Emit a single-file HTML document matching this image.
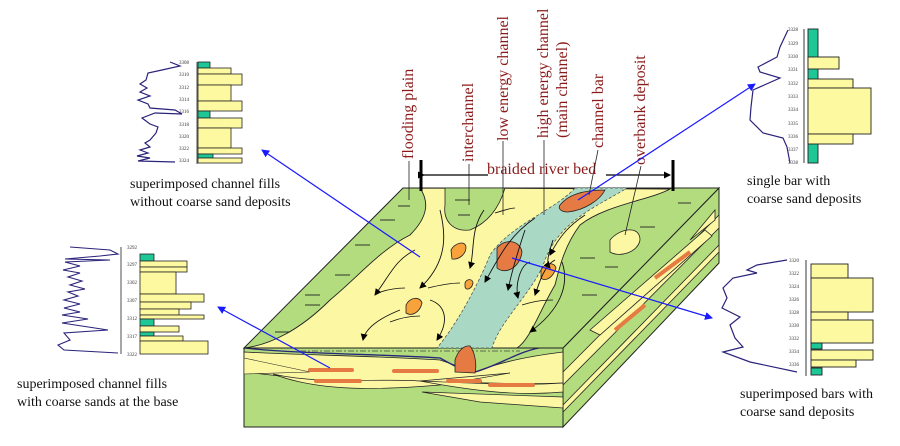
<!DOCTYPE html>
<html><head><meta charset="utf-8"><style>
html,body{margin:0;padding:0;background:#fff;}
svg{display:block;}
text{font-family:"Liberation Serif",serif;}
.lbl{fill:#8b1a1a;font-size:16px;}
.cap{fill:#111;font-size:14px;}
.num{font-family:"Liberation Sans",sans-serif;font-size:5px;fill:#333;}
</style></head><body>
<svg width="900" height="446" viewBox="0 0 900 446" xmlns="http://www.w3.org/2000/svg">
<defs>
<marker id="ab" markerWidth="8" markerHeight="8" refX="7" refY="4" orient="auto" markerUnits="userSpaceOnUse"><path d="M0,0 L8,4 L0,8 z" fill="#1a1aff"/></marker>
<marker id="ak" markerWidth="7" markerHeight="7" refX="6" refY="3.5" orient="auto" markerUnits="userSpaceOnUse"><path d="M0,0 L7,3.5 L0,7 z" fill="#000"/></marker>
</defs>

<polygon points="563,348 719,188 719,263 563,427" fill="#b3dc7e" stroke="#222" stroke-width="1"/>
<path d="M563,372 L719,215 L719,228 L563,385 Z" fill="#fcf7a3" stroke="#222" stroke-width="0.8"/>
<path d="M563,405 L719,245 L719,252 L563,412 Z" fill="#fcf7a3" stroke="#222" stroke-width="0.8"/>
<path d="M590,330 L705,230 L712,236 L600,335 Z" fill="#fcf7a3" stroke="#222" stroke-width="0.8"/>
<path d="M655,278 L690,252" stroke="#e57a42" stroke-width="4"/>
<path d="M615,330 L645,305" stroke="#e57a42" stroke-width="4"/>
<path d="M690,240 L715,210 L715,220 Z" fill="#fcf7a3" stroke="#222" stroke-width="0.8"/>

<rect x="244" y="348" width="319" height="79" fill="#b3dc7e" stroke="#222" stroke-width="1"/>
<path d="M244,352 C300,355 380,356 440,360 L475,372 C500,362 530,356 563,352 L563,383 C520,385 470,382 420,381 C380,386 330,384 280,376 L244,372 Z" fill="#fcf7a3" stroke="#222" stroke-width="0.8"/>
<path d="M244,358 L310,372 L244,374 Z" fill="#fcf7a3" stroke="#222" stroke-width="0.6"/>
<path d="M273,374 C320,385 380,378 420,381 L510,373 L440,385 C380,390 320,392 273,374 Z" fill="#fcf7a3" stroke="#222" stroke-width="0.7"/>
<path d="M420,381 C470,383 520,386 563,383 L563,392 C520,396 480,392 420,381 Z" fill="#fcf7a3" stroke="#222" stroke-width="0.7"/>
<path d="M422,392 L563,397 L563,408 L480,402 Z" fill="#fcf7a3" stroke="#222" stroke-width="0.7"/>
<g stroke="#e57a42" stroke-width="4" stroke-linecap="round">
<line x1="310" y1="370" x2="352" y2="370"/><line x1="394" y1="371" x2="437" y2="371"/>
<line x1="316" y1="381" x2="360" y2="381"/><line x1="448" y1="381" x2="480" y2="381"/>
<line x1="490" y1="385" x2="533" y2="385"/>
</g>
<path d="M244,348 C300,354 380,354 440,358 C465,372 470,373 475,372 C500,365 520,350 545,347" fill="none" stroke="#2a237a" stroke-width="1.3"/>
<line x1="300" y1="351" x2="520" y2="351" stroke="#444" stroke-width="0.8" stroke-dasharray="6,2,2,2"/>

<polygon points="403,188 719,188 563,348 244,348" fill="#b3dc7e" stroke="#222" stroke-width="1"/>
<path d="M420,188 C428,200 430,215 410,235 C380,250 360,275 330,300 C300,330 270,345 244,348 L517,348 C530,340 540,310 555,285 C560,265 565,245 580,225 C605,205 650,200 670,189 Z" fill="#fcf7a3" stroke="#222" stroke-width="0.9"/>
<path d="M445,188 L505,188 C500,205 490,222 470,230 C452,232 443,220 445,205 Z" fill="#b3dc7e" stroke="#222" stroke-width="0.8"/>
<path d="M610,240 C620,228 640,225 640,240 C638,252 620,258 610,252 Z" fill="#fcf7a3" stroke="#222" stroke-width="0.8"/>
<path d="M575,188 L627,188 C600,205 560,220 545,260 C535,290 500,320 492,348 L437,348 C460,320 480,280 490,255 C510,225 555,210 575,188 Z" fill="#a9d9c4" stroke="#444" stroke-width="0.7" stroke-dasharray="3,2"/>
<g fill="#e57a42" stroke="#222" stroke-width="0.8">
<path d="M560,205 C570,192 590,190 605,190 C600,200 585,210 568,212 C560,212 558,208 560,205 Z"/>
<path d="M497,248 C505,238 520,240 522,252 C520,268 505,275 497,268 Z"/>
<path d="M455,360 C458,350 465,345 470,346 C475,352 477,365 475,373 L455,372 Z"/>
</g>
<g fill="#f7a23a" stroke="#222" stroke-width="0.8">
<path d="M451,250 C455,243 465,240 466,247 C466,255 458,260 452,259 Z"/>
<path d="M465,283 C467,278 473,279 473,283 C472,289 466,291 465,287 Z"/>
<path d="M406,305 C410,297 420,296 422,303 C420,312 412,317 406,313 Z"/>
<path d="M541,270 C545,262 555,262 556,268 C553,278 545,282 541,278 Z"/>
</g>
<g fill="none" stroke="#111" stroke-width="0.9" marker-end="url(#ak)">
<path d="M415,250 C395,260 390,275 375,295"/>
<path d="M440,210 C445,230 450,260 420,288"/>
<path d="M400,310 C375,320 365,330 363,340"/>
<path d="M430,300 C445,305 450,320 437,340"/>
<path d="M484,210 C470,230 475,250 470,268"/>
<path d="M535,218 C510,235 500,255 485,282"/>
<path d="M525,230 C520,245 512,270 508,290"/>
<path d="M530,262 C520,265 515,285 518,298"/>
<path d="M553,240 C550,250 545,262 550,268"/>
<path d="M555,260 C545,265 540,280 535,295"/>
<path d="M585,215 C570,225 560,235 550,255"/>
<path d="M562,262 C570,285 560,310 530,332"/>
</g>
<g fill="none" stroke="#111" stroke-width="0.8">
<path d="M375,294 C385,290 395,288 405,288"/><path d="M390,322 C400,318 410,316 420,316"/>
<path d="M428,288 C440,285 450,283 460,283"/><path d="M522,305 C532,302 540,300 553,300"/>
<path d="M495,213 C505,210 510,208 515,208"/>
</g>
<g stroke="#222" stroke-width="0.9">
<line x1="398" y1="206" x2="410" y2="206"/><line x1="380" y1="220" x2="395" y2="220"/>
<line x1="355" y1="245" x2="370" y2="245"/><line x1="335" y1="275" x2="350" y2="275"/>
<line x1="305" y1="295" x2="320" y2="295"/><line x1="305" y1="305" x2="320" y2="305"/>
<line x1="275" y1="332" x2="290" y2="332"/><line x1="455" y1="200" x2="470" y2="200"/>
<line x1="458" y1="215" x2="470" y2="215"/><line x1="678" y1="203" x2="691" y2="203"/>
<line x1="640" y1="227" x2="655" y2="227"/><line x1="580" y1="258" x2="595" y2="258"/>
<line x1="605" y1="267" x2="618" y2="267"/><line x1="582" y1="295" x2="597" y2="295"/>
</g>

<g stroke="#000">
<line x1="421" y1="160" x2="421" y2="191" stroke-width="3"/>
<line x1="673" y1="160" x2="673" y2="191" stroke-width="3"/>
<line x1="424" y1="175" x2="488" y2="175" stroke-width="1.3" marker-start="url(#ak)"/>
<line x1="606" y1="175" x2="670" y2="175" stroke-width="1.3" marker-end="url(#ak)"/>
</g>
<text x="487" y="174" class="lbl">braided river bed</text>

<g stroke="#222" stroke-width="0.8">
<line x1="409" y1="161" x2="409" y2="200"/>
<line x1="469" y1="164" x2="469" y2="205"/>
<line x1="503" y1="141" x2="503" y2="215"/>
<line x1="544" y1="140" x2="544" y2="215"/>
<line x1="598" y1="150" x2="589" y2="195"/>
<line x1="641" y1="166" x2="625" y2="235"/>
</g>
<text transform="translate(413,159) rotate(-90)" class="lbl">flooding plain</text>
<text transform="translate(473,162) rotate(-90)" class="lbl">interchannel</text>
<text transform="translate(508,141) rotate(-90)" class="lbl">low energy channel</text>
<text transform="translate(548,138) rotate(-90)" class="lbl">high energy channel</text>
<text transform="translate(567,138) rotate(-90)" class="lbl">(main channel)</text>
<text transform="translate(603,148) rotate(-90)" class="lbl">channel bar</text>
<text transform="translate(645,165) rotate(-90)" class="lbl">overbank deposit</text>

<g stroke="#1a1aff" stroke-width="1.2" fill="none" marker-end="url(#ab)">
<line x1="420" y1="257" x2="262" y2="150"/>
<line x1="330" y1="368" x2="218" y2="307"/>
<line x1="578" y1="200" x2="755" y2="84"/>
<line x1="512" y1="258" x2="712" y2="318"/>
</g>

<g stroke="#222" stroke-width="0.8">
<line x1="197" y1="62" x2="197" y2="164"/>
<rect x="198" y="62" width="12" height="6" fill="#1dc796"/>
<rect x="198" y="68" width="33" height="6" fill="#fdf9a0"/>
<rect x="198" y="74" width="44" height="11" fill="#fdf9a0"/>
<rect x="198" y="85" width="33" height="16" fill="#fdf9a0"/>
<rect x="198" y="101" width="44" height="10" fill="#fdf9a0"/>
<rect x="198" y="111" width="12" height="7" fill="#1dc796"/>
<rect x="198" y="118" width="44" height="10" fill="#fdf9a0"/>
<rect x="198" y="128" width="33" height="20" fill="#fdf9a0"/>
<rect x="198" y="148" width="44" height="6" fill="#fdf9a0"/>
<rect x="198" y="154" width="15" height="4" fill="#1dc796"/>
<rect x="198" y="158" width="44" height="5" fill="#fdf9a0"/>
</g>
<g class="num" text-anchor="middle">
<text x="184" y="64">3308</text><text x="184" y="76">3310</text><text x="184" y="89">3312</text><text x="184" y="101">3314</text><text x="184" y="113">3316</text><text x="184" y="126">3318</text><text x="184" y="138">3320</text><text x="184" y="150">3322</text><text x="184" y="162">3324</text>
</g>
<polyline fill="none" stroke="#2a237a" stroke-width="1.2" points="170,62 180,66 162,70 148,73 146,80 140,84 147,88 140,92 150,96 138,100 148,104 150,108 175,110 182,114 155,113 142,118 150,124 158,127 156,133 150,140 145,143 150,147 140,150 148,153 137,156 150,158 138,161 175,162"/>

<g stroke="#222" stroke-width="0.9">
<line x1="804" y1="29" x2="804" y2="163"/>
<rect x="808" y="29" width="10" height="134" fill="#1dc796"/>
<rect x="808" y="57" width="31" height="12" fill="#fdf9a0"/>
<rect x="808" y="79" width="45" height="9" fill="#fdf9a0"/>
<rect x="808" y="88" width="63" height="46" fill="#fdf9a0"/>
<rect x="808" y="134" width="45" height="10" fill="#fdf9a0"/>
</g>
<g class="num" text-anchor="middle">
<text x="793" y="31">3328</text><text x="793" y="45">3329</text><text x="793" y="58">3330</text><text x="793" y="71">3331</text><text x="793" y="85">3332</text><text x="793" y="98">3333</text><text x="793" y="111">3334</text><text x="793" y="125">3335</text><text x="793" y="138">3336</text><text x="793" y="151">3337</text><text x="793" y="164">3338</text>
</g>
<polyline fill="none" stroke="#2a237a" stroke-width="1.2" points="788,30 780,47 777,57 758,67 760,72 780,78 753,90 751,107 750,120 763,133 783,138 787,147 790,163"/>

<g stroke="#222" stroke-width="0.8">
<line x1="121" y1="247" x2="121" y2="354"/>
<rect x="140" y="254" width="14" height="7" fill="#1dc796"/>
<rect x="140" y="261" width="47" height="6" fill="#fdf9a0"/>
<rect x="140" y="267" width="47" height="5" fill="#fdf9a0"/>
<rect x="140" y="272" width="36" height="22" fill="#fdf9a0"/>
<rect x="140" y="294" width="64" height="8" fill="#fdf9a0"/>
<rect x="140" y="302" width="51" height="7" fill="#fdf9a0"/>
<rect x="140" y="309" width="39" height="6" fill="#fdf9a0"/>
<rect x="140" y="315" width="64" height="4" fill="#fdf9a0"/>
<rect x="140" y="319" width="14" height="7" fill="#1dc796"/>
<rect x="140" y="326" width="39" height="6" fill="#fdf9a0"/>
<rect x="140" y="332" width="14" height="4" fill="#1dc796"/>
<rect x="140" y="336" width="43" height="5" fill="#fdf9a0"/>
<rect x="140" y="341" width="68" height="13" fill="#fdf9a0"/>
</g>
<g class="num" text-anchor="middle">
<text x="132" y="249">3292</text><text x="132" y="266">3297</text><text x="132" y="284">3302</text><text x="132" y="302">3307</text><text x="132" y="320">3312</text><text x="132" y="338">3317</text><text x="132" y="356">3322</text>
</g>
<polyline fill="none" stroke="#2a237a" stroke-width="1.1" points="70,247 110,250 118,254 100,256 65,259 110,260 65,262 80,266 63,270 80,273 68,277 82,281 70,285 85,289 68,292 78,296 64,300 80,304 64,308 80,312 62,315 88,319 62,323 108,330 64,333 70,340 58,345 64,350 118,353"/>

<g stroke="#222" stroke-width="0.9">
<line x1="806" y1="260" x2="806" y2="376"/>
<rect x="811" y="264" width="37" height="14" fill="#fdf9a0"/>
<rect x="811" y="278" width="62" height="34" fill="#fdf9a0"/>
<rect x="811" y="312" width="37" height="8" fill="#fdf9a0"/>
<rect x="811" y="320" width="62" height="23" fill="#fdf9a0"/>
<rect x="811" y="343" width="11" height="6" fill="#1dc796"/>
<rect x="811" y="350" width="62" height="10" fill="#fdf9a0"/>
<rect x="811" y="360" width="45" height="7" fill="#fdf9a0"/>
<rect x="811" y="368" width="11" height="7" fill="#1dc796"/>
</g>
<g class="num" text-anchor="middle">
<text x="794" y="262">3320</text><text x="794" y="275">3322</text><text x="794" y="288">3324</text><text x="794" y="301">3326</text><text x="794" y="314">3328</text><text x="794" y="327">3330</text><text x="794" y="340">3332</text><text x="794" y="353">3334</text><text x="794" y="366">3336</text>
</g>
<polyline fill="none" stroke="#2a237a" stroke-width="1.2" points="787,260 757,265 747,270 757,273 733,278 723,288 727,298 722,308 740,317 730,325 735,338 743,347 723,352 750,362 797,372"/>

<text x="130" y="188" class="cap">superimposed  channel fills</text>
<text x="130" y="206" class="cap">without coarse sand deposits</text>
<text x="747" y="185" class="cap">single bar with</text>
<text x="747" y="203" class="cap">coarse sand deposits</text>
<text x="17" y="388" class="cap">superimposed  channel fills</text>
<text x="17" y="406" class="cap">with coarse sands at the base</text>
<text x="740" y="398" class="cap">superimposed bars with</text>
<text x="740" y="416" class="cap">coarse sand deposits</text>
</svg>
</body></html>
